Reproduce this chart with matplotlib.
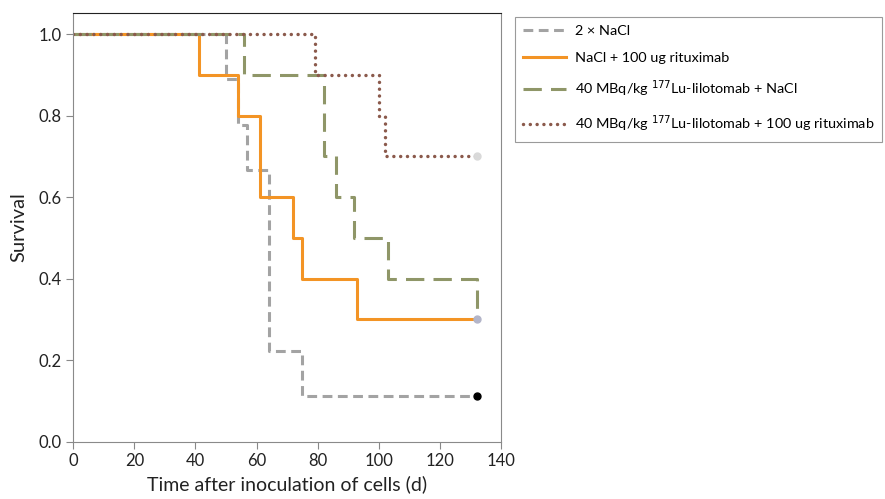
import matplotlib
matplotlib.use('Agg')
import matplotlib.pyplot as plt

plt.rcParams['font.family'] = ['Lato', 'DejaVu Sans']

# Kaplan-Meier steps (day, survival fraction)
nacl_t = [0, 50, 54, 57, 64, 75, 132]
nacl_s = [1.0, 0.889, 0.778, 0.667, 0.222, 0.111, 0.111]

ritux_t = [0, 41, 54, 61, 72, 75, 93, 132]
ritux_s = [1.0, 0.9, 0.8, 0.6, 0.5, 0.4, 0.3, 0.3]

lu_t = [0, 56, 82, 86, 92, 103, 132]
lu_s = [1.0, 0.9, 0.7, 0.6, 0.5, 0.4, 0.3]

lu_ritux_t = [0, 79, 100, 102, 132]
lu_ritux_s = [1.0, 0.9, 0.8, 0.7, 0.7]

labels = ['2 \u00d7 NaCl',
          'NaCl + 100 ug rituximab',
          '40 MBq/kg $^{177}$Lu-lilotomab + NaCl',
          '40 MBq/kg $^{177}$Lu-lilotomab + 100 ug rituximab']

fig = plt.figure(figsize=(8.85, 4.99), dpi=100)
ax = fig.add_axes([0.0828, 0.115, 0.4833, 0.859])

ax.step(nacl_t, nacl_s, where='post', color='#a3a3a3', lw=2.2,
        linestyle=(0, (3.2, 1.8)), label=labels[0])
ax.step(ritux_t, ritux_s, where='post', color='#f39425', lw=2.2,
        label=labels[1])
ax.step(lu_t, lu_s, where='post', color='#8f9668', lw=2.2,
        linestyle=(0, (6, 3)), label=labels[2])
ax.step(lu_ritux_t, lu_ritux_s, where='post', color='#8b5a4c', lw=2.5,
        linestyle=(0, (0.01, 1.95)), dash_capstyle='round', label=labels[3])

# censoring marks at end of follow-up
ax.plot(lu_ritux_t[-1], lu_ritux_s[-1], 'o', color='#d9d9d9', ms=5, zorder=5)
ax.plot(lu_t[-1], lu_s[-1], 'o', color='#b3b5c9', ms=5, zorder=5)
ax.plot(nacl_t[-1], nacl_s[-1], 'o', color='black', ms=5, zorder=5)

ax.set_xlim(0, 140)
ax.set_ylim(0, 1.052)
ax.set_xticks(range(0, 141, 20))
ax.set_yticks([0.0, 0.2, 0.4, 0.6, 0.8, 1.0])
ax.set_yticklabels(['0.0', '0.2', '0.4', '0.6', '0.8', '1.0'])
ax.tick_params(labelsize=12, color='#888888', length=5, labelcolor='#222222')
ax.set_xlabel('Time after inoculation of cells (d)', fontsize=14, color='#222222', labelpad=4)
ax.set_ylabel('Survival', fontsize=14.5, color='#222222', labelpad=8)

for side in ['left', 'bottom', 'right']:
    ax.spines[side].set_color('#8a8a8a')
ax.spines['top'].set_color('#222222')

leg = fig.legend(loc='upper left', bbox_to_anchor=(515 / 885, 1 - 17 / 499),
                 borderaxespad=0, fontsize=10.4, handlelength=3.0,
                 labelspacing=1.0, fancybox=False, edgecolor='#9a9a9a',
                 framealpha=1, borderpad=0.55, handletextpad=0.6)
leg.get_frame().set_linewidth(0.8)

plt.savefig('out.png', dpi=100)
